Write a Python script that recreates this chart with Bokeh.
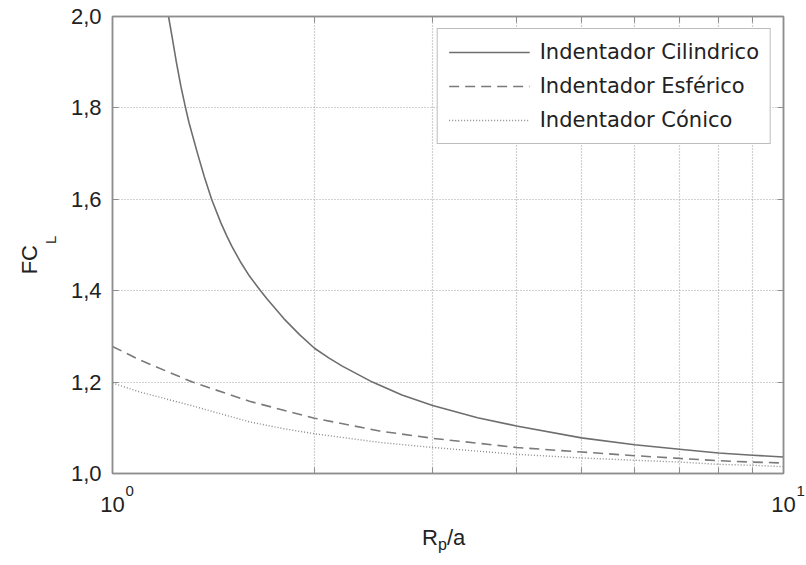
import math

from bokeh.embed import file_html
from bokeh.models import (CustomJSTickFormatter, FixedTicker, Label, Legend,
                          LegendItem, LinearAxis, LogAxis)
from bokeh.plotting import figure
from bokeh.resources import INLINE

# Load-correction factor FC_L versus relative radius Rp/a, one curve per indenter
x_cilindrico = [1.212, 1.228, 1.245, 1.265, 1.285, 1.3, 1.339, 1.37, 1.405,
                1.45, 1.48, 1.505, 1.55, 1.6, 1.662, 1.7, 1.8, 1.9, 2.0, 2.1,
                2.2, 2.44, 2.7, 3, 3.5, 4, 5, 6, 7, 8, 9, 10]
y_cilindrico = [2.0, 1.952, 1.9, 1.846, 1.8, 1.768, 1.7, 1.65, 1.6,
                1.549, 1.52, 1.498, 1.464, 1.432, 1.4, 1.382, 1.339, 1.304,
                1.274, 1.253, 1.235, 1.2, 1.172, 1.149, 1.122, 1.104, 1.078,
                1.063, 1.053, 1.045, 1.04, 1.036]

x_esferico = [1, 1.1, 1.316, 1.6, 2, 2.5, 3, 4, 5, 6, 7, 8, 9, 10]
y_esferico = [1.278, 1.248, 1.2, 1.158, 1.121, 1.093, 1.077, 1.057, 1.047,
              1.039, 1.033, 1.028, 1.025, 1.023]

x_conico = [1, 1.1, 1.316, 1.6, 1.8, 2, 2.5, 3, 4, 5, 6, 7, 8, 9, 10]
y_conico = [1.198, 1.178, 1.148, 1.113, 1.098, 1.087, 1.068, 1.057, 1.042,
            1.034, 1.029, 1.025, 1.02, 1.018, 1.015]

x_ticks = [1, 2, 3, 4, 5, 6, 7, 8, 9, 10]
y_ticks = [1.0, 1.2, 1.4, 1.6, 1.8, 2.0]

series_names = ["Indentador Cilindrico", "Indentador Esférico", "Indentador Cónico"]

AXIS_FONT = "Liberation Sans"
TEXT_COLOR = "#222222"
FRAME_COLOR = "#8e8e8e"
GRID_COLOR = "#a2a2a2"

X_MIN, X_MAX = 1, 10
Y_MIN, Y_MAX = 1.0, 2.0
X_MID = math.sqrt(X_MIN * X_MAX)      # centre of the log axis
Y_MID = (Y_MIN + Y_MAX) / 2

p = figure(frame_width=671, frame_height=457, x_axis_type="log",
           x_range=(X_MIN, X_MAX), y_range=(Y_MIN, Y_MAX),
           output_backend="svg", toolbar_location=None,
           min_border_left=112, min_border_right=23, min_border_top=16,
           min_border_bottom=92, background_fill_color="white",
           border_fill_color="white")
p.outline_line_color = FRAME_COLOR
p.outline_line_width = 1.5

# main axes: ticks drawn inward
xaxis = p.xaxis[0]
xaxis.ticker = FixedTicker(ticks=x_ticks)
xaxis.formatter = CustomJSTickFormatter(
    code="return (tick == 1 || tick == 10) ? '10' : '';")
xaxis.major_label_text_font = AXIS_FONT
xaxis.major_label_text_font_size = "22px"
xaxis.major_label_text_color = TEXT_COLOR
xaxis.major_label_standoff = 23
xaxis.minor_tick_line_color = None

yaxis = p.yaxis[0]
yaxis.ticker = FixedTicker(ticks=y_ticks)
yaxis.formatter = CustomJSTickFormatter(code="return tick.toFixed(1).replace('.', ',');")
yaxis.major_label_text_font = AXIS_FONT
yaxis.major_label_text_font_size = "22px"
yaxis.major_label_text_color = TEXT_COLOR
yaxis.major_label_standoff = 11
yaxis.minor_tick_line_color = None

for ax in (xaxis, yaxis):
    ax.axis_line_color = FRAME_COLOR
    ax.axis_line_width = 1.5
    ax.major_tick_in = 6
    ax.major_tick_out = 0
    ax.major_tick_line_color = FRAME_COLOR

# mirrored axes on top and right, ticks only
top_axis = LogAxis(ticker=FixedTicker(ticks=x_ticks),
                   formatter=CustomJSTickFormatter(code="return '';"))
right_axis = LinearAxis(ticker=FixedTicker(ticks=y_ticks),
                        formatter=CustomJSTickFormatter(code="return '';"))
for ax in (top_axis, right_axis):
    ax.major_label_text_font_size = "0px"
    ax.major_label_standoff = 0
    ax.axis_line_color = FRAME_COLOR
    ax.axis_line_width = 1.5
    ax.major_tick_in = 6
    ax.major_tick_out = 0
    ax.major_tick_line_color = FRAME_COLOR
    ax.minor_tick_line_color = None
p.add_layout(top_axis, "above")
p.add_layout(right_axis, "right")

for g in (p.xgrid[0], p.ygrid[0]):
    g.grid_line_color = GRID_COLOR
    g.grid_line_dash = "1 2"
    g.grid_line_width = 1.2

r_cil = p.line(x_cilindrico, y_cilindrico, line_color="#6e6e6e", line_width=1.6,
               line_join="round")
r_esf = p.line(x_esferico, y_esferico, line_color="#7a7a7a", line_width=1.6,
               line_dash="10 6")
r_con = p.line(x_conico, y_conico, line_color="#8a8a8a", line_width=1.4,
               line_dash="1 2")

legend = Legend(items=[LegendItem(label=series_names[0], renderers=[r_cil]),
                       LegendItem(label=series_names[1], renderers=[r_esf]),
                       LegendItem(label=series_names[2], renderers=[r_con])],
                location="top_right")
legend.margin = 12
legend.padding = 11
legend.spacing = 10
legend.glyph_width = 81
legend.glyph_height = 20
legend.label_height = 20
legend.label_standoff = 10
legend.label_text_font = "DejaVu Sans"
legend.label_text_font_size = "21px"
legend.label_text_color = TEXT_COLOR
legend.border_line_color = "#7c7c7c"
legend.border_line_width = 1.5
legend.background_fill_alpha = 1.0
p.add_layout(legend)


def text_label(text, x, y, dx, dy, size, align="left", angle=0.0):
    """Text positioned from data coordinates plus a pixel offset."""
    return Label(x=x, y=y, x_units="data", y_units="data", x_offset=dx,
                 y_offset=dy, text=text, angle=angle, text_align=align,
                 text_baseline="alphabetic", text_font=AXIS_FONT,
                 text_font_size=size, text_color=TEXT_COLOR)


# Labels live in the side panels so that they are drawn outside the frame.
# decade exponents: 10^0 and 10^1
p.add_layout(text_label("0", X_MIN, Y_MIN, 13, -17, "15px"), "below")
p.add_layout(text_label("1", X_MAX, Y_MIN, 13, -17, "15px"), "right")

# x axis title R_p/a
p.add_layout(text_label("R", X_MID, Y_MIN, -26, -64, "22px"), "left")
p.add_layout(text_label("p", X_MID, Y_MIN, -10, -71, "16px"), "right")
p.add_layout(text_label("/a", X_MID, Y_MIN, -1, -64, "22px"), "below")

# y axis title FC_L, rotated
p.add_layout(text_label("FC", X_MIN, Y_MID, -83, 0, "22px", align="right",
                        angle=math.pi / 2), "left")
p.add_layout(text_label("L", X_MIN, Y_MID, -62, 1, "15px", align="left",
                        angle=math.pi / 2), "left")

open("out.html", "w").write(file_html(p, INLINE))
